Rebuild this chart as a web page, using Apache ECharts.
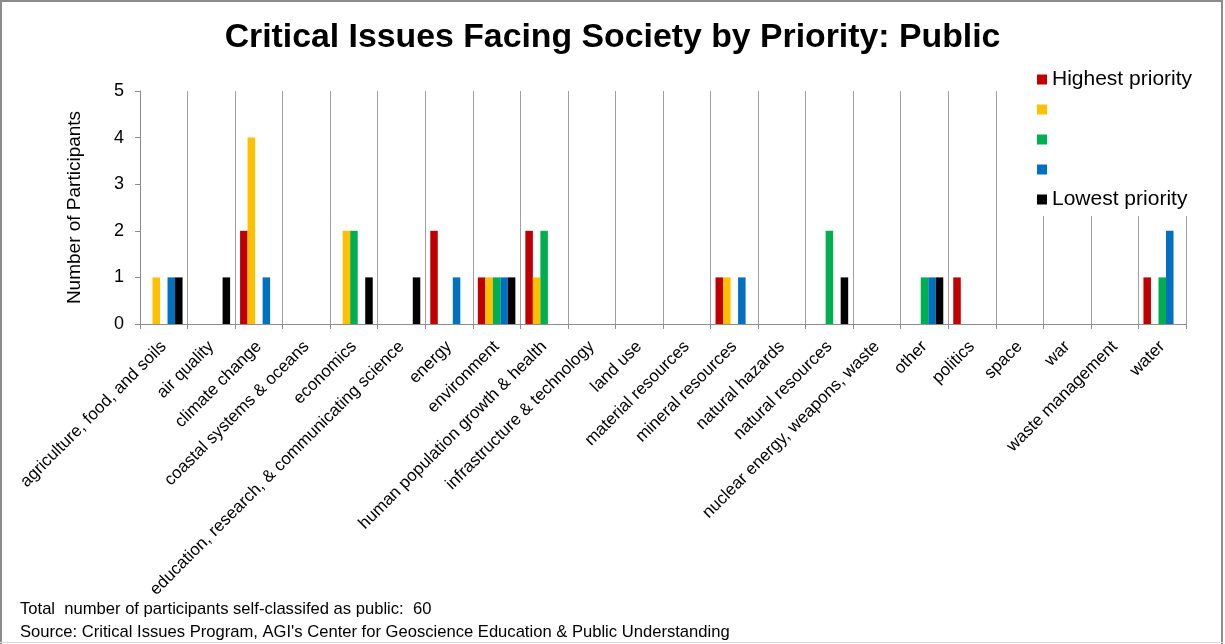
<!DOCTYPE html>
<html>
<head>
<meta charset="utf-8">
<script src="https://cdn.jsdelivr.net/npm/echarts@6/dist/echarts.min.js"></script>
<style>
  html, body { margin: 0; padding: 0; background: #fff; }
  #chart { width: 1225px; height: 644px; }
</style>
</head>
<body>
<div id="chart"></div>
<script>
// Issue categories along the x axis
const categories = [
  'agriculture, food, and soils', 'air quality', 'climate change',
  'coastal systems & oceans', 'economics',
  'education, research, & communicating science', 'energy', 'environment',
  'human population growth & health', 'infrastructure & technology',
  'land use', 'material resources', 'mineral resources', 'natural hazards',
  'natural resources', 'nuclear energy, weapons, waste', 'other',
  'politics', 'space', 'war', 'waste management', 'water'
];

// Participant counts per priority rank (highest to lowest)
const priority1 = [0, 0, 2, 0, 0, 0, 2, 1, 2, 0, 0, 0, 1, 0, 0, 0, 0, 1, 0, 0, 0, 1];
const priority2 = [1, 0, 4, 0, 2, 0, 0, 1, 1, 0, 0, 0, 1, 0, 0, 0, 0, 0, 0, 0, 0, 0];
const priority3 = [0, 0, 0, 0, 2, 0, 0, 1, 2, 0, 0, 0, 0, 0, 2, 0, 1, 0, 0, 0, 0, 1];
const priority4 = [1, 0, 1, 0, 0, 0, 1, 1, 0, 0, 0, 0, 1, 0, 0, 0, 1, 0, 0, 0, 0, 2];
const priority5 = [1, 1, 0, 0, 1, 1, 0, 1, 0, 0, 0, 0, 0, 0, 1, 0, 1, 0, 0, 0, 0, 0];

// Series keys and the legend text shown for each (middle ranks are unlabeled)
const seriesKeys = ['p1', 'p2', 'p3', 'p4', 'p5'];
const legendText = ['Highest priority', ' ', ' ', ' ', 'Lowest priority'];
const seriesColors = ['#C00000', '#FFC000', '#00B050', '#0070C0', '#000000'];
const seriesData = [priority1, priority2, priority3, priority4, priority5];

// Y axis range
const yMin = 0, yMax = 5, yStep = 1;

const FONT = "'Liberation Sans', Arial, sans-serif";
const AXIS_GRAY = '#8c8c8c';
const GRID_GRAY = '#a0a0a0';

const chart = echarts.init(document.getElementById('chart'), null, { renderer: 'canvas' });

const legendMap = {};
seriesKeys.forEach((k, i) => { legendMap[k] = legendText[i]; });

const option = {
  backgroundColor: '#fff',
  animation: false,
  title: {
    text: 'Critical Issues Facing Society by Priority: Public',
    left: 'center',
    top: 21,
    padding: 0,
    textStyle: { fontFamily: FONT, fontSize: 33.8, fontWeight: 'bold', color: '#000' }
  },
  legend: {
    orient: 'vertical',
    left: 1029,
    top: 63,
    padding: [6, 10, 6, 8],
    backgroundColor: '#fff',
    itemWidth: 10,
    itemHeight: 10,
    itemGap: 9,
    icon: 'rect',
    selectedMode: false,
    data: seriesKeys,
    formatter: name => legendMap[name],
    textStyle: { fontFamily: FONT, fontSize: 21, color: '#000' }
  },
  grid: { left: 140, right: 39, top: 91, bottom: 320, containLabel: false },
  xAxis: {
    type: 'category',
    data: categories,
    axisLine: { lineStyle: { color: AXIS_GRAY, width: 1 } },
    axisTick: { show: true, length: 5, lineStyle: { color: AXIS_GRAY } },
    splitLine: { show: true, lineStyle: { color: GRID_GRAY, width: 1 } },
    axisLabel: {
      interval: 0,
      rotate: 45,
      margin: 20,
      fontFamily: FONT,
      fontSize: 17,
      color: '#000'
    }
  },
  yAxis: {
    type: 'value',
    min: yMin,
    max: yMax,
    interval: yStep,
    name: 'Number of Participants',
    nameLocation: 'middle',
    nameGap: 56,
    nameTextStyle: { fontFamily: FONT, fontSize: 19, color: '#000' },
    axisLine: { show: true, lineStyle: { color: AXIS_GRAY, width: 1 } },
    axisTick: { show: true, length: 5, lineStyle: { color: AXIS_GRAY } },
    splitLine: { show: false },
    axisLabel: { margin: 16, fontFamily: FONT, fontSize: 18, color: '#000' }
  },
  series: seriesKeys.map((k, i) => ({
    name: k,
    type: 'bar',
    data: seriesData[i],
    barGap: '0%',
    barCategoryGap: '21%',
    itemStyle: { color: seriesColors[i] }
  })),
  graphic: [
    // frame around the chart area
    { type: 'rect', shape: { x: 0, y: 0, width: 2, height: 644 }, style: { fill: '#8c8c8c' }, silent: true },
    { type: 'rect', shape: { x: 0, y: 0, width: 1223, height: 2 }, style: { fill: '#8c8c8c' }, silent: true },
    { type: 'rect', shape: { x: 1221, y: 0, width: 2, height: 644 }, style: { fill: '#8c8c8c' }, silent: true },
    { type: 'rect', shape: { x: 0, y: 642, width: 1223, height: 1 }, style: { fill: '#d9d9d9' }, silent: true },
    // footnotes
    {
      type: 'text', left: 20, top: 601, silent: true,
      style: { text: 'Total  number of participants self-classifed as public:  60', font: '16.6px ' + FONT, fill: '#000' }
    },
    {
      type: 'text', left: 20, top: 624, silent: true,
      style: { text: "Source: Critical Issues Program, AGI's Center for Geoscience Education & Public Understanding", font: '16.6px ' + FONT, fill: '#000' }
    }
  ]
};

chart.setOption(option);
</script>
</body>
</html>
